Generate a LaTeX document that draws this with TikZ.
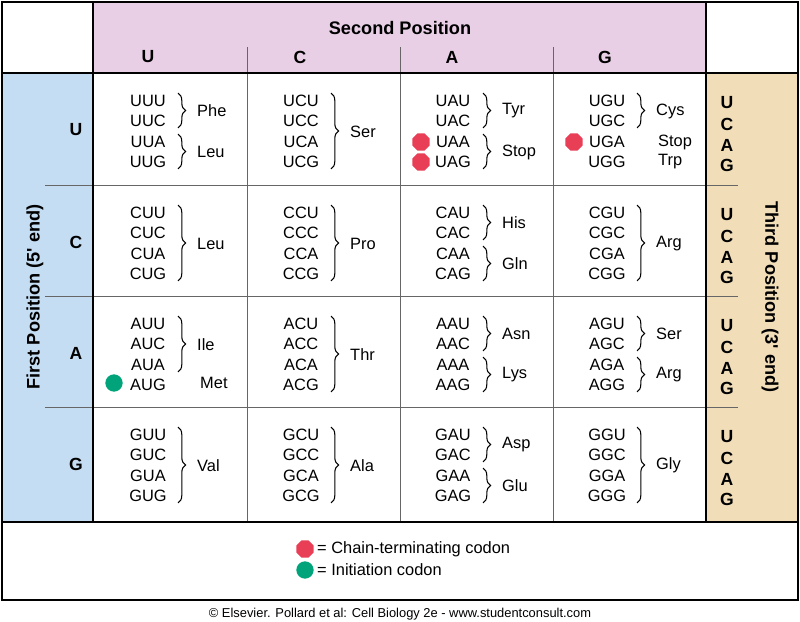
\documentclass[tikz,border=0pt]{standalone}
\usepackage{fontspec}
\setmainfont{Liberation Sans}
\usetikzlibrary{shapes.geometric,decorations.pathreplacing}
\definecolor{headpink}{RGB}{233,207,230}
\definecolor{firstblue}{RGB}{197,221,243}
\definecolor{thirdtan}{RGB}{241,222,185}
\definecolor{stopred}{RGB}{232,62,86}
\definecolor{initgreen}{RGB}{0,163,122}
\tikzset{
  codon/.style={inner sep=0pt,font=\fontsize{14}{16}\selectfont},
  aa/.style={anchor=west,inner sep=0pt,font=\fontsize{14}{16}\selectfont},
  base/.style={inner sep=0pt,font=\fontsize{15}{17}\selectfont\bfseries},
  title/.style={inner sep=0pt,font=\fontsize{15.5}{17}\selectfont\bfseries},
  stopdot/.style={regular polygon,regular polygon sides=8,fill=stopred,inner sep=0pt,minimum size=0.56cm,draw=none},
  initdot/.style={circle,fill=initgreen,inner sep=0pt,minimum size=0.52cm,draw=none},
  brc/.style={decorate,decoration={brace,amplitude=6.5pt},line width=0.9pt},
  thin grid/.style={gray!80!black,line width=0.7pt},
  thick grid/.style={black,line width=1.4pt}
}
\begin{document}
\begin{tikzpicture}[x=0.03cm,y=-0.03cm]
\useasboundingbox (0,0) rectangle (800,622);
% backgrounds
\fill[headpink] (93,2) rectangle (706,73);
\fill[firstblue] (2,73) rectangle (93,522);
\fill[thirdtan] (706,73) rectangle (798,522);
% grid
\foreach \y in {185,296,407} \draw[thin grid] (45,\y) -- (738,\y);
\foreach \x in {247,400,553} \draw[thin grid] (\x,47) -- (\x,522);
\draw[thick grid] (2,2) rectangle (798,600);
\draw[thick grid] (2,73) -- (798,73) (2,522) -- (798,522)
  (93,2) -- (93,522) (706,2) -- (706,522);
% headings
\node[title] (second) at (400,28) {Second Position};
\node[title,rotate=90] (first) at (35,297) {First Position (5\textquotesingle\ end)};
\node[title,rotate=-90] (third) at (770,297) {Third Position (3\textquotesingle\ end)};
\foreach \cx/\c in {148/U,300/C,452/A,605/G}
  \node[base] (top\c) at (\cx,57) {\c};
\foreach \ry/\r in {73/U,185/C,296/A,407/G} {
  \node[base] (left\r) at (76,\ry+57) {\r};
  \foreach \t/\dy in {U/30,C/51,A/72,G/92}
    \node[base] (right\r\t) at (727,\ry+\dy) {\t};
}
% codons
\foreach \cx/\c in {148/U,301/C,453/A,607/G}
  \foreach \ry/\r in {73/U,185/C,296/A,407/G}
    \foreach \t/\dy in {U/28,C/48,A/69,G/89}
      \node[codon] (\r\c\t) at (\cx,\ry+\dy) {\r\c\t};
% braces: column, row top, first offset, last offset, amino acid
\foreach \cx/\ry/\a/\b/\lab in {
  148/73/28/48/Phe, 148/73/69/89/Leu, 148/185/28/89/Leu, 148/296/28/69/Ile, 148/407/28/89/Val,
  301/73/28/89/Ser, 301/185/28/89/Pro, 301/296/28/89/Thr, 301/407/28/89/Ala,
  453/73/28/48/Tyr, 453/73/69/89/Stop, 453/185/28/48/His, 453/185/69/89/Gln,
  453/296/28/48/Asn, 453/296/69/89/Lys, 453/407/28/48/Asp, 453/407/69/89/Glu,
  607/73/28/48/Cys, 607/185/28/89/Arg, 607/296/28/48/Ser, 607/296/69/89/Arg, 607/407/28/89/Gly} {
  \draw[brc] (\cx+30,\ry+\a-8) -- (\cx+30,\ry+\b+7);
  \node[aa] (aa\cx\ry\a) at (\cx+49,\ry+\a/2+\b/2) {\lab};
}
\node[aa] (stopUGA) at (658,142) {Stop};
\node[aa] (trpUGG) at (658,162) {Trp};
\node[aa] (metAUG) at (200,383) {Met};
% start and stop marks
\node[stopdot] (sUAA) at (421,142) {};
\node[stopdot] (sUAG) at (421,162) {};
\node[stopdot] (sUGA) at (574,142) {};
\node[initdot] (iAUG) at (114,383) {};
% legend
\node[stopdot] (keystop) at (305,549) {};
\node[aa] (keystoptext) at (317,549) {= Chain-terminating codon};
\node[initdot] (keyinit) at (305,570) {};
\node[aa] (keyinittext) at (317,570) {= Initiation codon};
\node[inner sep=0pt,font=\fontsize{11}{13}\selectfont] (credit) at (400,614)
  {© Elsevier. Pollard et al: Cell Biology 2e - www.studentconsult.com};
\end{tikzpicture}
\end{document}
